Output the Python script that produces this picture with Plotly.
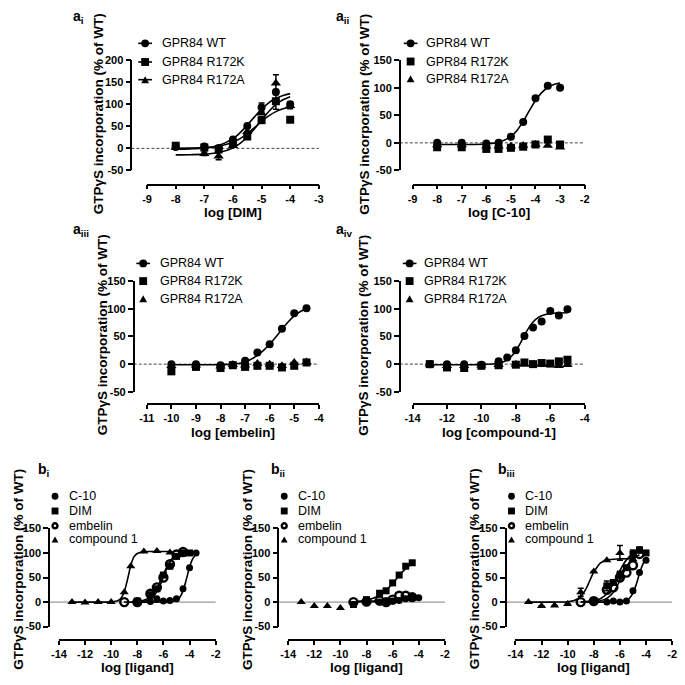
import plotly.graph_objects as go

W = H = 685
FONT = "Liberation Sans, Arial, sans-serif"

# ---------------- data ----------------
# a_i : DIM
ai_x = [-8, -7, -6.5, -6, -5.5, -5, -4.5, -4]
ai_wt = [3, 4, 1, 20, 51, 93, 128, 100]
ai_wt_err = [0, 2, 0, 4, 0, 10, 6, 6]
ai_k = [6, 2, -2, 11, 27, 64, 107, 65]
ai_k_err = [0, 0, 0, 0, 3, 7, 18, 0]
ai_a = [2, -12, -18, 6, 38, 80, 148, 97]
ai_a_err = [0, 4, 8, 0, 0, 0, 19, 7]
ai_cx = [-8, -7.5, -7, -6.5, -6, -5.75, -5.5, -5.25, -5, -4.75, -4.5, -4.25, -4]
ai_wt_fit = [-1.7, -1.1, 0.9, 6.7, 22.1, 35.6, 52.8, 71.6, 89.2, 103.5, 113.7, 120.3, 124.4]
ai_k_fit = [0.2, 0.5, 1.6, 4.8, 13.7, 22, 33.4, 47, 61.3, 73.8, 83.4, 89.9, 94]
ai_a_fit = [-14.8, -14.4, -13.2, -9.5, 1.0, 11.1, 25.7, 44.3, 64.7, 83.8, 99.3, 110.3, 117.5]

# a_ii : C-10
aii_x = [-8, -7, -6, -5.5, -5, -4.5, -4, -3.5, -3]
aii_wt = [0, 0, -1, 0, 11, 38, 81, 104, 100]
aii_k = [-8, -8, -11, -11, -9, -7, -3, 6, -3]
aii_a = [-4, -4, -6, -6, -6, -5, -3, -5, -8]
aii_cx = [-8, -7, -6, -5.5, -5, -4.75, -4.5, -4.25, -4, -3.75, -3.5, -3.25, -3]
aii_wt_fit = [-3, -3, -2, 1.0, 11.6, 22.7, 39, 58.5, 77, 91.3, 100.6, 106, 108.9]

# a_iii : embelin
aiii_x = [-10, -9, -8, -7.5, -7, -6.5, -6, -5.5, -5, -4.5]
aiii_wt = [0, 0, -2, -1, 6, 21, 36, 64, 92, 101]
aiii_k = [-13, -5, -7, -2, -5, -3, -3, -6, -3, 3]
aiii_a = [-3, -2, -4, -1, -2, 1, 0, -3, 3, 4]
aiii_cx = [-10, -9, -8, -7.5, -7, -6.75, -6.5, -6.25, -6, -5.75, -5.5, -5.25, -5, -4.75, -4.5]
aiii_wt_fit = [-1, -1, -1, 0, 4, 9, 16, 25, 36, 49, 63, 76, 87, 95, 100]

# a_iv : compound-1
aiv_x = [-13, -12, -11, -10, -9, -8.5, -8, -7.5, -7, -6.5, -6, -5.5, -5]
aiv_wt = [0, 0, 0, -1, 5, 12, 25, 51, 66, 77, 96, 88, 99]
aiv_k = [0, -6, -7, -3, -2, None, -1, 3, 0, 2, 1, 5, 8]
aiv_a = [0, -3, -3, -2, -1, None, 0, 0, 0, 0, 0, -3, -1]
aiv_cx = [-13, -12, -11, -10, -9, -8.75, -8.5, -8.25, -8, -7.75, -7.5, -7.25, -7, -6.75, -6.5, -6, -5.5, -5]
aiv_wt_fit = [-1, -1, -1, -0.8, 1.6, 3.8, 7.7, 14.2, 24.1, 37.2, 51.9, 65.6, 76.1, 83.2, 87.5, 91.4, 92.5, 92.8]

# b_i
bi_c10_x = [-8, -7, -6.5, -6, -5.5, -5, -4.5, -4, -3.5]
bi_c10 = [0, 1, 7, 2, 3, 7, 27, 70, 100]
bi_c10_cx = [-8, -6, -5.5, -5, -4.75, -4.5, -4.25, -4, -3.75, -3.5]
bi_c10_fit = [0, 0.1, 0.5, 3.6, 9.4, 22.8, 45.7, 71, 88.3, 96.7]
bi_dim_x = [-8, -7, -6.5, -6, -5.5, -5, -4.5, -4]
bi_dim = [2, 15, 27, 55, 73, 93, 100, 100]
bi_dim_cx = [-8, -7.5, -7, -6.5, -6.25, -6, -5.75, -5.5, -5.25, -5, -4.5, -4]
bi_dim_fit = [1.3, 3.8, 11.1, 28.6, 42.3, 56.9, 70.5, 81.5, 89.4, 94.5, 99.5, 101.2]
bi_emb_x = [-9, -8, -7, -6.5, -6, -5.5, -5, -4.5]
bi_emb = [0, 0, 17, 30, 50, 77, 97, 102]
bi_emb_cx = [-9, -8, -7.5, -7, -6.5, -6.25, -6, -5.75, -5.5, -5.25, -5, -4.75, -4.5]
bi_emb_fit = [0, 0.4, 1.6, 6.1, 20.7, 34.3, 51.5, 68.7, 82.3, 91.5, 96.9, 99.8, 101.4]
bi_cpd_x = [-13, -12, -11, -10, -9, -8.5, -7.5, -6.5, -5.5]
bi_cpd = [0, -1, 0, 0, 20, 73, 103, 104, 101]
bi_cpd_cx = [-13, -12, -11, -10, -9.5, -9.25, -9, -8.75, -8.5, -8.25, -8, -7.5, -7, -6, -5.5]
bi_cpd_fit = [0, 0, 0, 0.3, 2.5, 7.6, 20.9, 46, 74.4, 92.4, 99, 102.5, 103, 103, 103]

# b_ii
bii_c10_x = [-8, -7, -6.5, -6, -5.5, -5, -4.5, -4]
bii_c10 = [1, 0, -2, 2, 3, 7, 10, 9]
bii_c10_cx = [-8, -7, -6, -5, -4.5, -4]
bii_c10_fit = [0, 1, 2, 5, 7, 8]
bii_dim_x = [-9, -8, -7, -6.5, -6, -5.5, -5, -4.5]
bii_dim = [-5, 5, 18, 23, 39, 55, 73, 80]
bii_dim_cx = [-9, -8.5, -8, -7.5, -7, -6.5, -6, -5.5, -5, -4.5]
bii_dim_fit = [0, 2, 4, 8, 14, 24, 38, 54, 68, 79]
bii_emb_x = [-9, -8, -7, -6.5, -6, -5.5, -5, -4.5]
bii_emb = [0, 1, 3, 0, 5, 13, 13, 10]
bii_emb_cx = [-9, -8, -7, -6, -5.5, -5, -4.5]
bii_emb_fit = [0, 1, 3, 6, 8, 9, 10]
bii_cpd_x = [-13, -12, -11, -10]
bii_cpd = [0, -8, -8, -12]

# b_iii
biii_c10_x = [-8, -7, -6.5, -6, -5.5, -5, -4.5, -4]
biii_c10 = [0, 0, 2, 0, 2, 23, 60, 85]
biii_c10_cx = [-8, -7, -6, -5.5, -5.25, -5, -4.75, -4.5, -4.25, -4]
biii_c10_fit = [0, 0, 0.6, 3.4, 8.2, 18.2, 35.8, 58, 76.9, 88.3]
biii_dim_x = [-8, -7, -6.5, -6, -5.5, -5, -4.5, -4]
biii_dim = [3, 33, 40, 55, 70, 98, 106, 100]
biii_dim_err = [0, 10, 0, 8, 0, 8, 6, 0]
biii_dim_cx = [-9, -8, -7.5, -7, -6.5, -6, -5.5, -5, -4.5, -4]
biii_dim_fit = [0.3, 2.5, 6.7, 17, 37, 63.8, 85.9, 97.9, 102.8, 104.8]
biii_emb_x = [-9, -8, -7, -6.5, -6, -5.5, -5, -4.5]
biii_emb = [0, 2, 25, 30, 50, 60, 75, 98]
biii_emb_cx = [-9, -8, -7.5, -7, -6.5, -6, -5.5, -5, -4.5]
biii_emb_fit = [0.1, 0.8, 2.5, 7.4, 20, 44, 71.5, 88.8, 96.2]
biii_cpd_x = [-13, -12, -11, -10, -9, -8, -7, -6, -5]
biii_cpd = [0, -8, -7, -4, 20, 62, 85, 100, 87]
biii_cpd_err = [0, 0, 0, 0, 8, 0, 0, 15, 0]
biii_cpd_cx = [-13, -12, -11, -10, -9.5, -9, -8.75, -8.5, -8.25, -8, -7.75, -7.5, -7, -6, -5]
biii_cpd_fit = [0, 0, 0, 0.8, 3.1, 11.1, 20, 32, 47, 61.3, 71, 79.3, 85.6, 87.9, 88]

# tick values / labels
xt_ai = [-9, -8, -7, -6, -5, -4, -3]
xt_aii = [-9, -8, -7, -6, -5, -4, -3, -2]
xt_aiii = [-11, -10, -9, -8, -7, -6, -5, -4]
xt_aiv = [-14, -12, -10, -8, -6, -4]
xt_b = [-14, -12, -10, -8, -6, -4, -2]
yt_200 = [-50, 0, 50, 100, 150, 200]
yt_150 = [-50, 0, 50, 100, 150]

YTITLE = "GTPγS incorporation (% of WT)"


def X(p):
    return p / W


def Y(p):
    return 1 - p / H


def lab(v):
    return [str(t) for t in v]


# ---------------- panel geometry (pixels) ----------------
panels = [
    dict(name="a", sub="i", lx=64, ly=11, x0=142, x1=317.3, xr=[-9, -3], xt=xt_ai,
         ytop=55.3, ybot=167.3, yr=[-50, 200], yt=yt_200, yax=126, xay=181.7,
         xtitle="log [DIM]", tty=210, ytx=92, yty=110),
    dict(name="a", sub="ii", lx=333, ly=11, x0=413, x1=588.7, xr=[-9, -2], xt=xt_aii,
         ytop=55.3, ybot=167.3, yr=[-50, 150], yt=yt_150, yax=400, xay=181.7,
         xtitle="log [C-10]", tty=210, ytx=363, yty=110),
    dict(name="a", sub="iii", lx=64, ly=228, x0=141.7, x1=317.3, xr=[-11, -4], xt=xt_aiii,
         ytop=280, ybot=392.7, yr=[-50, 150], yt=yt_150, yax=128.3, xay=405,
         xtitle="log [embelin]", tty=434, ytx=96, yty=335),
    dict(name="a", sub="iv", lx=333, ly=228, x0=413, x1=588.7, xr=[-14, -4], xt=xt_aiv,
         ytop=280, ybot=392.7, yr=[-50, 150], yt=yt_150, yax=400, xay=405,
         xtitle="log [compound-1]", tty=434, ytx=363, yty=335),
    dict(name="b", sub="i", lx=29, ly=472, x0=52, x1=212, xr=[-14, -2], xt=xt_b,
         ytop=531.7, ybot=631.7, yr=[-50, 150], yt=yt_150, yax=42, xay=645,
         xtitle="log [ligand]", tty=673, ytx=11, yty=573),
    dict(name="b", sub="ii", lx=266, ly=472, x0=286, x1=446, xr=[-14, -2], xt=xt_b,
         ytop=531.7, ybot=631.7, yr=[-50, 150], yt=yt_150, yax=276, xay=645,
         xtitle="log [ligand]", tty=673, ytx=245, yty=573),
    dict(name="b", sub="iii", lx=498, ly=472, x0=518, x1=678, xr=[-14, -2], xt=xt_b,
         ytop=531.7, ybot=631.7, yr=[-50, 150], yt=yt_150, yax=508, xay=645,
         xtitle="log [ligand]", tty=673, ytx=477, yty=573),
]

fig = go.Figure()
layout = {}
shapes = []
annos = []
tickfont = dict(family=FONT, size=11, color="black", weight="bold")

for i, P in enumerate(panels, start=1):
    sfx = "" if i == 1 else str(i)
    layout["xaxis" + sfx] = dict(
        domain=[X(P["x0"]), X(P["x1"])], range=P["xr"], anchor="free", position=Y(P["xay"]),
        showline=True, linecolor="black", linewidth=1.7, ticks="outside", ticklen=4,
        tickwidth=1.7, tickcolor="black", tickvals=P["xt"], ticktext=lab(P["xt"]),
        tickfont=tickfont, showgrid=False, zeroline=False, fixedrange=True)
    layout["yaxis" + sfx] = dict(
        domain=[Y(P["ybot"]), Y(P["ytop"])], range=P["yr"], anchor="free", position=X(P["yax"]),
        showline=True, linecolor="black", linewidth=1.7, ticks="outside", ticklen=5,
        tickwidth=1.7, tickcolor="black", tickvals=P["yt"], ticktext=lab(P["yt"]),
        tickfont=tickfont, showgrid=False, zeroline=False, fixedrange=True)
    # zero reference line
    if P["name"] == "a":
        zl = dict(color="#444", width=1, dash="3px,2px")
    else:
        zl = dict(color="#999", width=1.2)
    shapes.append(dict(type="line", xref="paper", yref="y" + sfx, x0=X(P["yax"]), x1=X(P["x1"]),
                       y0=0, y1=0, line=zl, layer="below"))
    # panel label
    annos.append(dict(text="<b>%s<sub>%s</sub></b>" % (P["name"], P["sub"]), x=X(P["lx"]), y=Y(P["ly"]),
                      xref="paper", yref="paper", xanchor="left", yanchor="middle", showarrow=False,
                      font=dict(family=FONT, size=14, color="black")))
    # axis titles
    annos.append(dict(text=P["xtitle"], x=X((P["x0"] + P["x1"]) / 2), y=Y(P["tty"]), xref="paper",
                      yref="paper", xanchor="center", yanchor="middle", showarrow=False,
                      font=dict(family=FONT, size=13.5, color="black", weight="bold")))
    annos.append(dict(text=YTITLE, x=X(P["ytx"]), y=Y(P["yty"]), xref="paper", yref="paper",
                      xanchor="center", yanchor="middle", showarrow=False, textangle=-90,
                      font=dict(family=FONT, size=13.5, color="black", weight="bold")))

SYM = {"circle": "circle", "square": "square", "triangle": "triangle-up", "open": "circle-open"}


def pts(panel, x, y, sym, size=8, err=None):
    sfx = "" if panel == 1 else str(panel)
    m = dict(symbol=SYM[sym], size=size, color="black")
    if sym == "open":
        m["line"] = dict(width=2.4, color="black")
    tr = go.Scatter(x=x, y=y, mode="markers", marker=m, xaxis="x" + sfx, yaxis="y" + sfx,
                    cliponaxis=False, hoverinfo="skip")
    if err is not None:
        tr.error_y = dict(type="data", array=err, visible=True, color="black", thickness=1.5, width=3)
    fig.add_trace(tr)


def fit(panel, x, y):
    sfx = "" if panel == 1 else str(panel)
    fig.add_trace(go.Scatter(x=x, y=y, mode="lines", line=dict(color="black", width=1.6, shape="spline"),
                             xaxis="x" + sfx, yaxis="y" + sfx, cliponaxis=False, hoverinfo="skip"))


# a_i
fit(1, ai_cx, ai_wt_fit); fit(1, ai_cx, ai_k_fit); fit(1, ai_cx, ai_a_fit)
pts(1, ai_x, ai_k, "square", 8, ai_k_err)
pts(1, ai_x, ai_a, "triangle", 9, ai_a_err)
pts(1, ai_x, ai_wt, "circle", 8, ai_wt_err)
# a_ii
fit(2, aii_cx, aii_wt_fit)
pts(2, aii_x, aii_k, "square", 8)
pts(2, aii_x, aii_a, "triangle", 9)
pts(2, aii_x, aii_wt, "circle", 8)
# a_iii
fit(3, aiii_cx, aiii_wt_fit)
pts(3, aiii_x, aiii_k, "square", 8)
pts(3, aiii_x, aiii_a, "triangle", 9)
pts(3, aiii_x, aiii_wt, "circle", 8)
# a_iv
fit(4, aiv_cx, aiv_wt_fit)
pts(4, aiv_x, aiv_k, "square", 8)
pts(4, aiv_x, aiv_a, "triangle", 9)
pts(4, aiv_x, aiv_wt, "circle", 8)
# b_i
fit(5, bi_c10_cx, bi_c10_fit); fit(5, bi_dim_cx, bi_dim_fit)
fit(5, bi_emb_cx, bi_emb_fit); fit(5, bi_cpd_cx, bi_cpd_fit)
pts(5, bi_emb_x, bi_emb, "open", 8)
pts(5, bi_dim_x, bi_dim, "square", 7)
pts(5, bi_c10_x, bi_c10, "circle", 7)
pts(5, bi_cpd_x, bi_cpd, "triangle", 8)
# b_ii
fit(6, bii_c10_cx, bii_c10_fit); fit(6, bii_dim_cx, bii_dim_fit); fit(6, bii_emb_cx, bii_emb_fit)
pts(6, bii_emb_x, bii_emb, "open", 8)
pts(6, bii_dim_x, bii_dim, "square", 7)
pts(6, bii_c10_x, bii_c10, "circle", 7)
pts(6, bii_cpd_x, bii_cpd, "triangle", 8)
# b_iii
fit(7, biii_c10_cx, biii_c10_fit); fit(7, biii_dim_cx, biii_dim_fit)
fit(7, biii_emb_cx, biii_emb_fit); fit(7, biii_cpd_cx, biii_cpd_fit)
pts(7, biii_emb_x, biii_emb, "open", 8)
pts(7, biii_dim_x, biii_dim, "square", 7, biii_dim_err)
pts(7, biii_c10_x, biii_c10, "circle", 7)
pts(7, biii_cpd_x, biii_cpd, "triangle", 8, biii_cpd_err)


# ---------------- legends (drawn as decorations) ----------------
def legend_symbol(kind, cx, cy, s):
    r = s / 2
    if kind == "circle":
        shapes.append(dict(type="circle", xref="paper", yref="paper", x0=X(cx - r), x1=X(cx + r),
                           y0=Y(cy + r), y1=Y(cy - r), fillcolor="black", line=dict(width=0)))
    elif kind == "open":
        shapes.append(dict(type="circle", xref="paper", yref="paper", x0=X(cx - r + 1), x1=X(cx + r - 1),
                           y0=Y(cy + r - 1), y1=Y(cy - r + 1), fillcolor="white",
                           line=dict(width=2.4, color="black")))
    elif kind == "square":
        shapes.append(dict(type="rect", xref="paper", yref="paper", x0=X(cx - r), x1=X(cx + r),
                           y0=Y(cy + r), y1=Y(cy - r), fillcolor="black", line=dict(width=0)))
    else:
        h = s * 0.9
        path = "M %f,%f L %f,%f L %f,%f Z" % (X(cx - r), Y(cy + h / 2), X(cx + r), Y(cy + h / 2),
                                              X(cx), Y(cy - h / 2))
        shapes.append(dict(type="path", xref="paper", yref="paper", path=path, fillcolor="black",
                           line=dict(width=0)))


def legend(mx, tx, rows, entries, size, fs):
    for (kind, line, text), ry in zip(entries, rows):
        if line:
            shapes.append(dict(type="line", xref="paper", yref="paper", x0=X(mx - 7), x1=X(mx + 7),
                               y0=Y(ry), y1=Y(ry), line=dict(color="black", width=1.6)))
        legend_symbol(kind, mx, ry, size)
        annos.append(dict(text=text, x=X(tx), y=Y(ry), xref="paper", yref="paper", xanchor="left",
                          yanchor="middle", showarrow=False, font=dict(family=FONT, size=fs, color="black")))


a_lab = ["GPR84 WT", "GPR84 R172K", "GPR84 R172A"]
legend(140, 155, [38, 57, 75], [("circle", True, a_lab[0]), ("square", True, a_lab[1]),
                                ("triangle", True, a_lab[2])], 8, 12.5)
for mx, tx, rows in [(411, 425, [38, 56.5, 74]), (138, 153, [262, 280, 298]), (410, 423, [262, 280, 298])]:
    legend(mx, tx, rows, [("circle", True, a_lab[0]), ("square", False, a_lab[1]),
                          ("triangle", False, a_lab[2])], 8, 12.5)
b_ent = [("circle", False, "C-10"), ("square", False, "DIM"), ("open", False, "embelin"),
         ("triangle", False, "compound 1")]
for mx, tx in [(48, 60), (282, 294), (514, 526)]:
    legend(mx, tx, [499, 514, 529, 543], b_ent, 7, 12.5)

layout.update(dict(width=W, height=H, margin=dict(l=0, r=0, t=0, b=0), showlegend=False,
                   plot_bgcolor="white", paper_bgcolor="white", shapes=shapes, annotations=annos,
                   font=dict(family=FONT, color="black")))
fig.update_layout(**layout)
fig.write_html("out.html", config={"displayModeBar": False},
               post_script="document.body.style.margin='0px';"
                           "document.documentElement.style.overflow='hidden';")
